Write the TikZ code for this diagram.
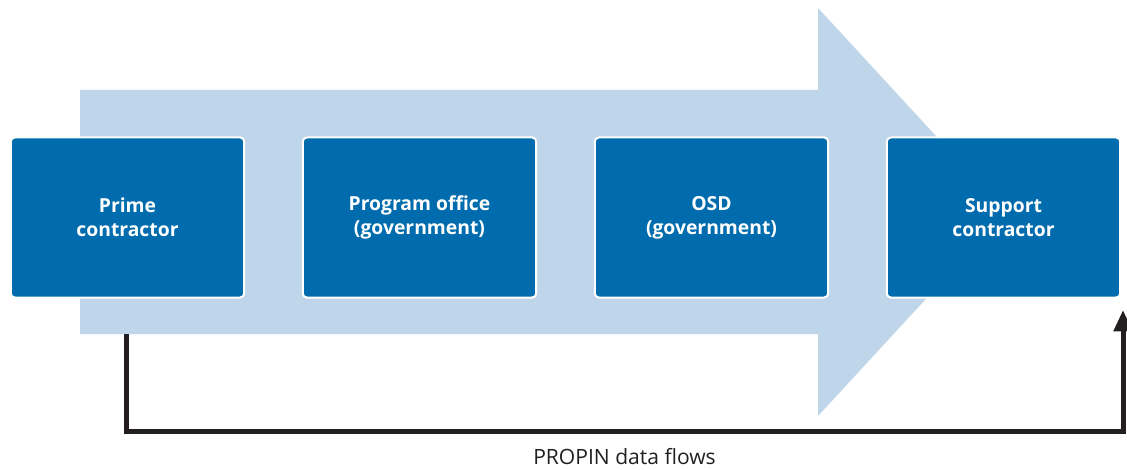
\documentclass[tikz,border=0pt]{standalone}
\usepackage{fontspec}
\setmainfont{Open Sans}
\usepackage{tikz}
\usetikzlibrary{arrows.meta,positioning}

\definecolor{boxblue}{HTML}{006CAD}
\definecolor{flowblue}{HTML}{BFD5E9}
\definecolor{linegray}{HTML}{231F20}

\tikzset{
  party/.style={rectangle, rounded corners=3pt, fill=boxblue, draw=white, line width=1.5pt,
    minimum width=175pt, minimum height=120pt, align=center, text=white,
    font=\fontsize{14.5}{18}\selectfont\bfseries},
  flowline/.style={draw=linegray, line width=3.75pt, -{Triangle[length=16pt,width=13.5pt]}}
}

\begin{document}
\begin{tikzpicture}[x=0.75pt, y=-0.75pt, node distance=42.5pt]
  \useasboundingbox (0,0) rectangle (1127,470);
  % big process arrow
  \fill[flowblue] (80,90) -- (818,90) -- (818,8) -- (1006,212) -- (818,416) -- (818,334) -- (80,334) -- cycle;

  \node[party] (prime) at (127.5,217.5) {Prime\\contractor};
  \node[party, right=of prime] (program) {Program office\\(government)};
  \node[party, right=of program] (osd) {OSD\\(government)};
  \node[party, right=of osd] (support) {Support\\contractor};

  \coordinate (flowstart) at (126,334);
  \coordinate (flowend) at (1123,310);
  \draw[flowline] (flowstart) |- (1123,431) node[pos=0.75, below=11pt, inner sep=0pt, text=linegray, font=\fontsize{15.8}{19}\selectfont] {PROPIN data flows} -- (flowend);
\end{tikzpicture}
\end{document}
